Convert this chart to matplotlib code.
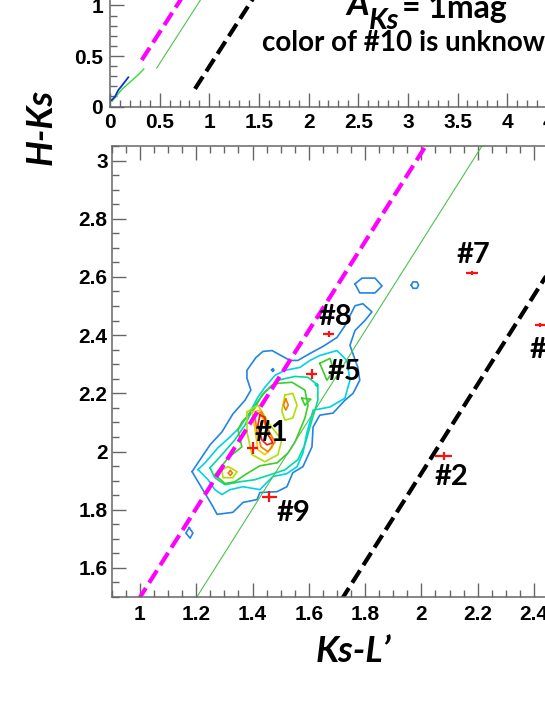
import matplotlib
matplotlib.use('Agg')
import matplotlib.pyplot as plt
from matplotlib.ticker import MultipleLocator, FuncFormatter

plt.rcParams['font.family'] = ['Liberation Sans', 'DejaVu Sans']
plt.rcParams['font.weight'] = 'bold'

# reddening lines (Ks-L', H-Ks)
magenta_x = [0.32, 2.10]
magenta_y = [0.46, 3.18]
green_x = [0.47, 2.30]
green_y = [0.38, 3.18]
black_x = [0.856, 3.00]
black_y = [0.175, 3.455]

# intrinsic loci near the origin (upper panel)
locus_green_x = [0.02, 0.06, 0.12, 0.20, 0.28, 0.34]
locus_green_y = [0.05, 0.10, 0.17, 0.24, 0.31, 0.37]
locus_blue_x = [0.017, 0.05, 0.084, 0.117, 0.151, 0.184]
locus_blue_y = [0.064, 0.097, 0.163, 0.203, 0.246, 0.289]

# measured sources
star_names = ['#1', '#5', '#8', '#9', '#7', '#2', '#4']
star_x = [1.40, 1.61, 1.67, 1.46, 2.18, 2.08, 2.42]
star_y = [2.013, 2.265, 2.405, 1.845, 2.615, 1.985, 2.435]
star_xerr = [0.018, 0.019, 0.020, 0.027, 0.020, 0.030, 0.018]
star_yerr = [0.020, 0.017, 0.010, 0.020, 0.007, 0.013, 0.007]

# density contours, one list of outlines per level
lvl1_main = [(1.185, 1.931), (1.249, 2.023), (1.291, 2.067), (1.330, 2.129), (1.373, 2.176),
             (1.394, 2.211), (1.380, 2.252), (1.380, 2.279), (1.412, 2.323), (1.437, 2.344),
             (1.469, 2.347), (1.501, 2.330), (1.533, 2.313), (1.561, 2.313), (1.604, 2.337),
             (1.650, 2.361), (1.700, 2.392), (1.728, 2.432), (1.764, 2.501), (1.792, 2.508),
             (1.824, 2.480), (1.799, 2.450), (1.764, 2.416), (1.746, 2.365), (1.774, 2.289),
             (1.781, 2.245), (1.757, 2.200), (1.728, 2.176), (1.686, 2.132), (1.639, 2.125),
             (1.615, 2.084), (1.611, 2.016), (1.579, 1.948), (1.543, 1.927), (1.522, 1.879),
             (1.487, 1.862), (1.426, 1.859), (1.416, 1.835), (1.366, 1.825), (1.330, 1.791),
             (1.274, 1.784), (1.259, 1.811), (1.238, 1.845), (1.202, 1.903)]
lvl1_island_a = [(1.764, 2.576), (1.789, 2.596), (1.835, 2.596), (1.860, 2.569), (1.835, 2.545), (1.781, 2.545)]
lvl1_island_b = [(1.964, 2.572), (1.970, 2.583), (1.984, 2.583), (1.990, 2.572), (1.984, 2.561), (1.970, 2.561)]
lvl1_island_c = [(1.175, 1.738), (1.188, 1.720), (1.178, 1.702), (1.163, 1.720)]
lvl1_dot = [(1.468, 2.280), (1.472, 2.285), (1.476, 2.280), (1.472, 2.275)]

lvl2_main = [(1.206, 1.938), (1.231, 1.961), (1.277, 2.013), (1.320, 2.050), (1.355, 2.084),
             (1.391, 2.136), (1.419, 2.187), (1.444, 2.221), (1.480, 2.262), (1.515, 2.279),
             (1.568, 2.289), (1.604, 2.313), (1.639, 2.330), (1.700, 2.347), (1.735, 2.313),
             (1.746, 2.245), (1.728, 2.183), (1.675, 2.153), (1.615, 2.142), (1.593, 2.064),
             (1.579, 1.995), (1.558, 1.948), (1.522, 1.924), (1.472, 1.914), (1.426, 1.869),
             (1.366, 1.879), (1.320, 1.869), (1.291, 1.852), (1.266, 1.869), (1.242, 1.903)]
lvl2_dot = [(1.624, 2.229), (1.628, 2.234), (1.632, 2.229), (1.628, 2.224)]

lvl3_main = [(1.249, 1.944), (1.291, 1.989), (1.337, 2.040), (1.373, 2.091), (1.408, 2.159),
             (1.444, 2.204), (1.490, 2.245), (1.551, 2.258), (1.597, 2.255), (1.632, 2.228),
             (1.632, 2.176), (1.611, 2.108), (1.586, 2.023), (1.561, 1.972), (1.515, 1.937),
             (1.462, 1.920), (1.408, 1.903), (1.355, 1.896), (1.302, 1.886), (1.266, 1.910)]

lvl4_main = [(1.487, 2.234), (1.540, 2.238), (1.586, 2.211), (1.597, 2.159), (1.586, 2.115),
             (1.551, 2.033), (1.526, 1.995), (1.487, 1.961), (1.426, 1.951), (1.373, 1.920),
             (1.337, 1.896), (1.302, 1.890), (1.266, 1.920), (1.313, 1.978), (1.362, 2.016),
             (1.348, 2.074), (1.362, 2.101), (1.408, 2.149), (1.433, 2.194), (1.469, 2.228)]
lvl4_near5 = [(1.639, 2.303), (1.675, 2.320), (1.689, 2.279), (1.664, 2.245)]
lvl4_small = [(1.575, 2.183), (1.607, 2.180), (1.586, 2.159)]

lvl5_core = [(1.380, 2.136), (1.419, 2.159), (1.462, 2.091), (1.504, 2.040),
             (1.490, 1.989), (1.444, 1.965), (1.398, 1.989), (1.380, 2.067)]
lvl5_peak = [(1.515, 2.194), (1.543, 2.200), (1.558, 2.159), (1.543, 2.115), (1.515, 2.108), (1.504, 2.139)]
lvl5_low = [(1.291, 1.937), (1.313, 1.948), (1.345, 1.931), (1.330, 1.910), (1.295, 1.910)]

lvl6_core = [(1.398, 2.136), (1.426, 2.142), (1.440, 2.101), (1.469, 2.047),
             (1.469, 2.013), (1.444, 1.989), (1.419, 2.006), (1.408, 2.081)]

lvl7_core = [(1.408, 2.125), (1.433, 2.136), (1.451, 2.081), (1.480, 2.033),
             (1.455, 1.999), (1.430, 2.016), (1.416, 2.067)]
lvl7_peak = [(1.518, 2.180), (1.527, 2.160), (1.518, 2.142), (1.510, 2.160)]
lvl7_low = [(1.321, 1.934), (1.329, 1.926), (1.321, 1.918), (1.313, 1.926)]

lvl8_core = [(1.426, 2.125), (1.444, 2.118), (1.448, 2.067), (1.462, 2.047),
             (1.472, 2.030), (1.451, 2.023), (1.433, 2.040), (1.419, 2.091)]

contour_sets = [
    ([lvl1_main, lvl1_island_a, lvl1_island_b, lvl1_island_c, lvl1_dot], '#2384e2'),
    ([lvl2_main, lvl2_dot], '#00d2e6'),
    ([lvl3_main], '#00dca0'),
    ([lvl4_main, lvl4_near5, lvl4_small], '#3ccd28'),
    ([lvl5_core, lvl5_peak, lvl5_low], '#aee000'),
    ([lvl6_core], '#f5c800'),
    ([lvl7_core, lvl7_peak, lvl7_low], '#f57d00'),
    ([lvl8_core], '#e61e1e'),
]

W, H = 545, 705
fig = plt.figure(figsize=(W / 100, H / 100), dpi=100)

# axes extend past the right/top edge: the reference is a crop
ax_top = fig.add_axes([110 / W, 1 - 106.5 / H, 496.5 / W, 303 / H])
ax = fig.add_axes([111.85 / W, 1 - 597 / H, 591 / W, 451 / H])

fmt = FuncFormatter(lambda v, p: f'{v:g}')
gray = '#666666'

def style_axes(a, major, minor, ymajor, yminor, xpad, ypad):
    a.xaxis.set_major_locator(MultipleLocator(major))
    a.xaxis.set_minor_locator(MultipleLocator(minor))
    a.yaxis.set_major_locator(MultipleLocator(ymajor))
    a.yaxis.set_minor_locator(MultipleLocator(yminor))
    a.xaxis.set_major_formatter(fmt)
    a.yaxis.set_major_formatter(fmt)
    a.tick_params(which='both', direction='in', top=True, right=True, color=gray, width=1.0)
    a.tick_params(which='major', length=10, labelsize=15)
    a.tick_params(which='minor', length=5)
    a.tick_params(axis='x', pad=xpad)
    a.tick_params(axis='y', pad=ypad)
    for s in a.spines.values():
        s.set_color(gray)
        s.set_linewidth(1.1)

dash = (0, (3.5, 1.5))

# upper panel
ax_top.set_xlim(0, 5)
ax_top.set_ylim(0, 3)
style_axes(ax_top, 0.5, 0.1, 0.5, 0.1, 5, 5)
ax_top.plot(locus_green_x, locus_green_y, color='#33dd33', lw=1.0)
ax_top.plot(locus_blue_x, locus_blue_y, color='#1530d0', lw=1.3)
ax_top.plot(green_x, green_y, color='#4cc34c', lw=0.8)
ax_top.plot(magenta_x, magenta_y, color='#ff00ff', lw=3, linestyle=dash)
ax_top.plot(black_x, black_y, color='black', lw=3, linestyle=dash)

# lower panel
ax.set_xlim(0.9, 3.0)
ax.set_ylim(1.5, 3.05)
style_axes(ax, 0.2, 0.05, 0.2, 0.05, 6, 3)

for polys, col in contour_sets:
    for poly in polys:
        xs = [p[0] for p in poly] + [poly[0][0]]
        ys = [p[1] for p in poly] + [poly[0][1]]
        ax.plot(xs, ys, color=col, lw=1.2)

ax.plot(green_x, green_y, color='#4cc34c', lw=0.8)
ax.plot(magenta_x, magenta_y, color='#ff00ff', lw=3, linestyle=dash)
ax.plot(black_x, black_y, color='black', lw=3, linestyle=dash)

ax.errorbar(star_x, star_y, xerr=star_xerr, yerr=star_yerr, fmt='none',
            ecolor='#ff1010', elinewidth=1.6, capsize=0, zorder=5)

label_pos = [(1.468, 2.065, 'center'), (1.728, 2.272, 'center'), (1.693, 2.461, 'center'),
             (1.544, 1.788, 'center'), (2.186, 2.675, 'center'), (2.107, 1.911, 'center'),
             (2.385, 2.349, 'left')]
lab_font = ['Lato', 'DejaVu Sans']
for name, (lx, ly, ha) in zip(star_names, label_pos):
    ax.text(lx, ly, name, ha=ha, va='center', fontsize=21, fontweight='bold',
            family=lab_font, zorder=6)

# titles and axis labels
fig.text(346 / W, 1 - 15 / H, 'A', fontsize=25, fontweight='bold', style='italic',
         family=lab_font, va='baseline', ha='left')
fig.text(369 / W, 1 - 29 / H, 'Ks', fontsize=21, fontweight='bold', style='italic',
         family=lab_font, va='baseline', ha='left')
fig.text(402 / W, 1 - 18 / H, '= 1mag', fontsize=23, fontweight='bold',
         family=lab_font, va='baseline', ha='left')
fig.text(262 / W, 1 - 51 / H, 'color of #10 is unknown', fontsize=20, fontweight='bold',
         family=lab_font, va='baseline', ha='left')

fig.text(41 / W, 1 - 127 / H, 'H-Ks', fontsize=26, fontweight='bold', style='italic',
         family=lab_font, rotation=90, ha='center', va='center')
fig.text(353 / W, 1 - 652 / H, 'Ks-L\u2019', fontsize=26, fontweight='bold', style='italic',
         family=lab_font, ha='center', va='center')

fig.savefig('out.png', dpi=100)
